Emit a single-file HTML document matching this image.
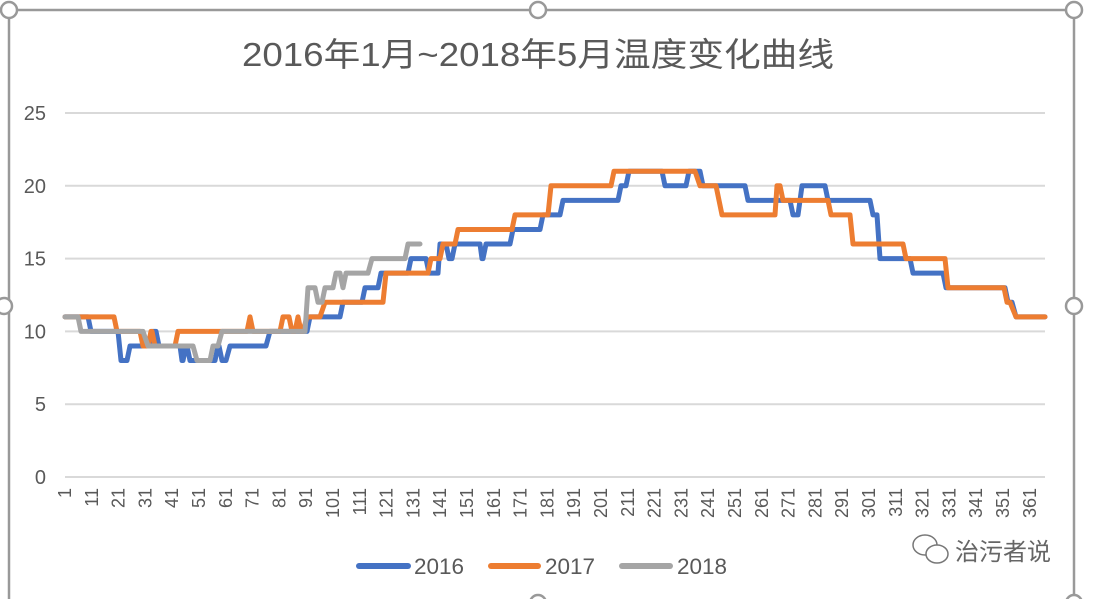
<!DOCTYPE html>
<html><head><meta charset="utf-8"><style>
html,body{margin:0;padding:0;background:#fff;}
svg{display:block;font-family:"Liberation Sans","Noto Sans CJK SC",sans-serif;}
</style></head><body>
<svg id="s" width="1096" height="599" viewBox="0 0 1096 599" xmlns="http://www.w3.org/2000/svg">
<rect width="1096" height="599" fill="#fff"/>
<g stroke="#999" stroke-width="2.5" fill="#fff">
<line x1="9" y1="10" x2="1074" y2="10"/>
<line x1="9" y1="10" x2="9" y2="599"/>
<line x1="1074" y1="10" x2="1074" y2="599"/>
<circle cx="9" cy="10" r="8"/><circle cx="538" cy="10" r="8"/><circle cx="1074" cy="10" r="8"/>
<circle cx="4" cy="306" r="8"/><circle cx="1074" cy="306" r="8"/>
<circle cx="538" cy="603" r="8"/><circle cx="1074" cy="603" r="8"/>
</g>
<text x="538" y="66" text-anchor="middle" font-size="33" fill="#595959" textLength="592" lengthAdjust="spacingAndGlyphs">2016年1月~2018年5月温度变化曲线</text>
<g id="grid" stroke="#d9d9d9" stroke-width="2"></g>
<g id="yl" font-size="20" fill="#595959" text-anchor="end"></g>
<g id="xl" font-size="18" fill="#595959"></g>
<g id="ser" fill="none" stroke-width="5" stroke-linejoin="round" stroke-linecap="round"></g>
<g font-size="22" fill="#595959">
<line x1="359" y1="566" x2="408" y2="566" stroke="#4472c4" stroke-width="6" stroke-linecap="round"/>
<text x="414" y="574" textLength="50" lengthAdjust="spacingAndGlyphs">2016</text>
<line x1="491" y1="566" x2="538" y2="566" stroke="#ed7d31" stroke-width="6" stroke-linecap="round"/>
<text x="545" y="574" textLength="50" lengthAdjust="spacingAndGlyphs">2017</text>
<line x1="622" y1="566" x2="670" y2="566" stroke="#a5a5a5" stroke-width="6" stroke-linecap="round"/>
<text x="677" y="574" textLength="50" lengthAdjust="spacingAndGlyphs">2018</text>
</g>
<g fill="none" stroke="#777" stroke-width="1.5">
<ellipse cx="925" cy="545" rx="12" ry="10"/>
<ellipse cx="937" cy="554" rx="11" ry="9" fill="#fff"/>
</g>
<text x="955" y="560" font-size="24" fill="#666">治污者说</text>
</svg>
<script>
const NS="http://www.w3.org/2000/svg";
const Y=v=>477-v*14.56;
const g=document.getElementById('grid'),yl=document.getElementById('yl'),xl=document.getElementById('xl'),ser=document.getElementById('ser');
for(let v=0;v<=25;v+=5){const l=document.createElementNS(NS,'line');l.setAttribute('x1',65);l.setAttribute('x2',1045);l.setAttribute('y1',Y(v));l.setAttribute('y2',Y(v));g.appendChild(l);
const t=document.createElementNS(NS,'text');t.setAttribute('x',46);t.setAttribute('y',Y(v)+7);t.textContent=v;yl.appendChild(t);}
for(let d=1;d<=361;d+=10){const x=65+(d-1)*2.68;const t=document.createElementNS(NS,'text');t.setAttribute('transform',`translate(${x+6},${488}) rotate(-90)`);t.setAttribute('text-anchor','end');t.textContent=d;xl.appendChild(t);}
function path(segs,col){let d='';segs.forEach((s,i)=>{d+=(i?'L':'M')+s[0]+','+Y(s[2])+'L'+s[1]+','+Y(s[2]);});const p=document.createElementNS(NS,'path');p.setAttribute('d',d);p.setAttribute('stroke',col);ser.appendChild(p);}
path([[65,88,11],[91,118,10],[121,127,8],[130,150,9],[153,156,10],[159,180,9],[182,183,8],[186,187,9],[190,215,8],[218,219,9],[222,226,8],[230,266,9],[270,307,10],[310,340,11],[343,362,12],[365,378,13],[381,408,14],[411,426,15],[429,438,14],[440,446,16],[449,452,15],[455,480,16],[482,483,15],[486,510,16],[513,540,17],[543,560,18],[563,618,19],[621,626,20],[629,662,21],[665,686,20],[689,700,21],[703,745,20],[748,790,19],[793,798,18],[802,825,20],[828,870,19],[873,877,18],[880,910,15],[913,943,14],[946,1005,13],[1008,1012,12],[1016,1045,11]],'#4472c4');
path([[65,114,11],[117,140,10],[143,148,9],[151,152,10],[155,175,9],[178,247,10],[250,250,11],[253,280,10],[283,289,11],[292,295,10],[298,298,11],[301,303,10],[307,320,11],[325,383,12],[386,428,14],[431,440,15],[443,455,16],[458,512,17],[515,548,18],[551,611,20],[614,695,21],[700,716,20],[722,775,18],[777,780,20],[783,828,19],[831,850,18],[853,903,16],[906,945,15],[948,1004,13],[1007,1010,12],[1016,1045,11]],'#ed7d31');
path([[65,78,11],[81,143,10],[148,193,9],[197,210,8],[213,218,9],[222,305,10],[308,315,13],[318,322,12],[325,333,13],[336,340,14],[343,343,13],[346,368,14],[372,405,15],[408,420,16]],'#a5a5a5');
</script>
</body></html>
